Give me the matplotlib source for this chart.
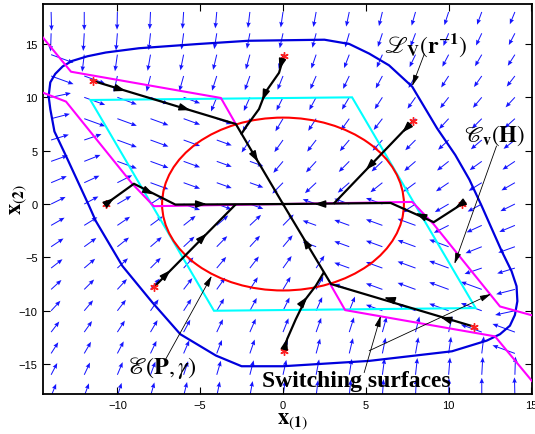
import numpy as np
import matplotlib
matplotlib.use("Agg")
import matplotlib.pyplot as plt
from matplotlib.patches import Ellipse, Polygon

plt.rcParams["mathtext.fontset"] = "stix"
plt.rcParams["font.family"] = ["Liberation Sans Narrow", "Liberation Sans", "DejaVu Sans"]

# ---- vector field (arrow components, in pixels) ----
GX = [-14, -12, -10, -8, -6, -4, -2, 0, 2, 4, 6, 8, 10, 12, 14]
GY = [18, 16, 14, 12, 10, 8, 6, 4, 2, 0, -2, -4, -6, -8, -10, -12, -14, -16, -18]
U_PX = [
    [0.4, 0.0, -0.3, -0.7, -1.0, -1.3, -1.7, -2.0, -2.4, -2.7, -3.0, -3.4, -3.7, -4.1, -4.4],
    [-0.5, -0.9, -1.2, -1.6, -1.9, -2.2, -2.6, -2.9, -3.3, -3.6, -3.9, -4.3, -4.6, -5.0, -5.3],
    [19.5, -1.8, -2.1, -2.5, -2.8, -3.2, -3.5, -3.8, -4.2, -4.5, -4.9, -5.2, -5.5, -5.9, -6.2],
    [19.5, 18.2, -3.1, -3.4, -3.7, -4.1, -4.4, -4.8, -5.1, -5.4, -5.8, -6.1, -6.5, -6.8, -7.1],
    [17.2, 18.2, 16.9, 15.6, 14.3, -5.0, -5.3, -5.7, -6.0, -6.4, -6.7, -7.0, -7.4, -7.7, -8.1],
    [16.3, 18.2, 16.9, 15.6, 14.3, 13.0, -6.3, -6.6, -6.9, -7.3, -7.6, -8.0, -8.3, -8.6, -9.0],
    [15.4, 15.0, 16.9, 15.6, 14.3, 13.0, -7.2, -7.5, -7.8, -8.2, -8.5, -8.9, -9.2, -9.5, -9.9],
    [14.5, 14.1, 16.9, 15.6, 14.3, 13.0, 11.7, -8.4, -8.8, -9.1, -9.4, -9.8, -10.1, -10.5, -10.8],
    [13.6, 13.2, 12.9, 15.6, 14.3, 13.0, 11.7, -9.3, -9.7, -10.0, -10.4, -10.7, -11.0, -11.4, -11.7],
    [12.6, 12.3, 12.0, 11.6, 14.3, 13.0, 11.7, 0.0, -11.7, -13.0, -14.3, -11.6, -12.0, -12.3, -12.6],
    [11.7, 11.4, 11.0, 10.7, 10.4, 10.0, 9.7, 9.3, -11.7, -13.0, -14.3, -15.6, -12.9, -13.2, -13.6],
    [10.8, 10.5, 10.1, 9.8, 9.4, 9.1, 8.8, 8.4, -11.7, -13.0, -14.3, -15.6, -16.9, -14.1, -14.5],
    [9.9, 9.5, 9.2, 8.9, 8.5, 8.2, 7.8, 7.5, 7.2, -13.0, -14.3, -15.6, -16.9, -15.0, -15.4],
    [9.0, 8.6, 8.3, 8.0, 7.6, 7.3, 6.9, 6.6, 6.3, -13.0, -14.3, -15.6, -16.9, -18.2, -16.3],
    [8.1, 7.7, 7.4, 7.0, 6.7, 6.4, 6.0, 5.7, 5.3, 5.0, -14.3, -15.6, -16.9, -18.2, -17.2],
    [7.1, 6.8, 6.5, 6.1, 5.8, 5.4, 5.1, 4.8, 4.4, 4.1, 3.7, 3.4, 3.1, -18.2, -19.5],
    [6.2, 5.9, 5.5, 5.2, 4.9, 4.5, 4.2, 3.8, 3.5, 3.2, 2.8, 2.5, 2.1, 1.8, -19.5],
    [5.3, 5.0, 4.6, 4.3, 3.9, 3.6, 3.3, 2.9, 2.6, 2.2, 1.9, 1.6, 1.2, 0.9, 0.5],
    [4.4, 4.1, 3.7, 3.4, 3.0, 2.7, 2.4, 2.0, 1.7, 1.3, 1.0, 0.7, 0.3, 0.0, -0.4],
]
V_PX = [
    [-16.3, -15.9, -15.5, -15.1, -14.7, -14.3, -13.9, -13.5, -13.1, -12.7, -12.3, -11.9, -11.5, -11.1, -10.7],
    [-15.8, -15.4, -15.0, -14.6, -14.2, -13.8, -13.4, -13.0, -12.6, -12.2, -11.8, -11.4, -11.0, -10.6, -10.2],
    [-7.1, -14.9, -14.5, -14.1, -13.7, -13.3, -12.9, -12.5, -12.1, -11.7, -11.3, -10.9, -10.5, -10.1, -9.7],
    [-7.1, -6.6, -14.0, -13.6, -13.2, -12.8, -12.4, -12.0, -11.6, -11.2, -10.8, -10.4, -10.0, -9.6, -9.2],
    [3.7, -6.6, -6.2, -5.7, -5.2, -12.3, -11.9, -11.5, -11.1, -10.7, -10.3, -9.9, -9.5, -9.1, -8.7],
    [4.2, -6.6, -6.2, -5.7, -5.2, -4.7, -11.4, -11.0, -10.6, -10.2, -9.8, -9.4, -9.0, -8.6, -8.2],
    [4.7, 5.1, -6.2, -5.7, -5.2, -4.7, -10.9, -10.5, -10.1, -9.7, -9.3, -8.9, -8.5, -8.1, -7.7],
    [5.2, 5.6, -6.2, -5.7, -5.2, -4.7, -4.2, -10.0, -9.6, -9.2, -8.8, -8.4, -8.0, -7.6, -7.2],
    [5.7, 6.1, 6.5, -5.7, -5.2, -4.7, -4.2, -9.5, -9.1, -8.7, -8.3, -7.9, -7.5, -7.1, -6.7],
    [6.2, 6.6, 7.0, 7.4, -5.2, -4.7, -4.2, 0.0, 4.2, 4.7, 5.2, -7.4, -7.0, -6.6, -6.2],
    [6.7, 7.1, 7.5, 7.9, 8.3, 8.7, 9.1, 9.5, 4.2, 4.7, 5.2, 5.7, -6.5, -6.1, -5.7],
    [7.2, 7.6, 8.0, 8.4, 8.8, 9.2, 9.6, 10.0, 4.2, 4.7, 5.2, 5.7, 6.2, -5.6, -5.2],
    [7.7, 8.1, 8.5, 8.9, 9.3, 9.7, 10.1, 10.5, 10.9, 4.7, 5.2, 5.7, 6.2, -5.1, -4.7],
    [8.2, 8.6, 9.0, 9.4, 9.8, 10.2, 10.6, 11.0, 11.4, 4.7, 5.2, 5.7, 6.2, 6.6, -4.2],
    [8.7, 9.1, 9.5, 9.9, 10.3, 10.7, 11.1, 11.5, 11.9, 12.3, 5.2, 5.7, 6.2, 6.6, -3.7],
    [9.2, 9.6, 10.0, 10.4, 10.8, 11.2, 11.6, 12.0, 12.4, 12.8, 13.2, 13.6, 14.0, 6.6, 7.1],
    [9.7, 10.1, 10.5, 10.9, 11.3, 11.7, 12.1, 12.5, 12.9, 13.3, 13.7, 14.1, 14.5, 14.9, 7.1],
    [10.2, 10.6, 11.0, 11.4, 11.8, 12.2, 12.6, 13.0, 13.4, 13.8, 14.2, 14.6, 15.0, 15.4, 15.8],
    [10.7, 11.1, 11.5, 11.9, 12.3, 12.7, 13.1, 13.5, 13.9, 14.3, 14.7, 15.1, 15.5, 15.9, 16.3],
]

# ---- sets ----
LV_X = [-14.15, -14.05, -13.75, -13.3, -12.75, -11.8, -10.7, -8.7, -5.1, -2.1, 2.5, 4.0, 5.2, 6.4,
        7.8, 9.3, 10.4, 11.25, 12.0, 13.2, 13.8, 14.1, 14.15, 14.0, 13.7, 13.1, 12.3, 10.2, 5.2,
        0.0, -2.5, -4.05, -6.2, -7.9, -9.7, -11.3, -11.7, -13.1, -13.8, -14.05, -14.15]
LV_Y = [10.1, 11.4, 12.2, 12.9, 13.4, 13.85, 14.2, 14.6, 15.0, 15.3, 15.4, 15.0, 14.1, 13.0,
        11.0, 7.1, 4.6, 2.3, -0.2, -4.4, -6.3, -7.7, -9.1, -10.4, -11.4, -12.2, -12.8, -13.8, -14.7,
        -15.2, -15.2, -14.2, -12.2, -9.2, -5.8, -1.6, -0.2, 4.5, 6.8, 8.9, 10.1]
CH_X = [-11.63, 4.17, 11.63, -4.17]
CH_Y = [9.75, 10.0, -9.75, -10.0]
ELL_W, ELL_H = 14.6, 16.2

# switching surfaces
SW1_X = [-14.6, -12.8, -3.75, -2.85]
SW1_Y = [15.8, 12.4, 9.94, 7.5]
SW2_X = [2.85, 3.75, 12.8, 15.2]
SW2_Y = [-7.5, -9.94, -12.4, -16.9]
SW3_X = [-14.6, -13.1, -9.1, -7.8, 7.8, 9.1, 13.1, 15.2]
SW3_Y = [10.5, 9.6, 1.9, -0.2, 0.2, -1.9, -9.6, -10.5]

# trajectories
TRAJ = [
    ([-11.5, -2.85, 0.0], [11.55, 7.5, 0.0]),
    ([11.55, 2.9, 0.0], [-11.5, -7.5, 0.0]),
    ([0.06, -0.24, -1.05, -1.45, -2.2, -2.5], [13.9, 12.3, 10.5, 8.9, 7.3, 6.6]),
    ([0.06, 0.25, 0.77, 1.37, 1.98, 2.45], [-13.75, -12.65, -10.8, -8.9, -7.66, -6.45]),
    ([-10.7, -9.0, -6.5, 0.0], [0.0, 1.9, -0.05, 0.0]),
    ([10.8, 9.1, 6.5, 0.0], [0.0, -1.7, 0.1, 0.0]),
    ([7.86, 3.1], [7.8, 0.1]),
    ([-7.8, -2.9], [-7.8, -0.1]),
]
# arrowheads on trajectories: (x, y, dx, dy)
HEADS = [
    (-9.5, 10.6, 8.65, -4.05), (-5.6, 8.8, 8.65, -4.05), (-1.5, 3.95, 2.85, -7.5),
    (9.5, -10.6, -8.65, 4.0), (6.1, -8.75, -8.65, 4.0), (1.2, -3.15, -2.9, 7.5),
    (-0.22, 12.6, -0.3, -1.6), (-1.25, 9.7, -0.4, -1.6),
    (0.25, -12.6, 0.19, 1.1), (1.45, -8.7, 0.6, 1.24),
    (-10.2, 0.55, 1.7, 1.9), (-7.8, 0.9, 2.5, -1.95), (-4.6, 0.0, 1.0, 0.0),
    (10.4, -0.35, -1.7, -1.7), (8.0, -0.85, -2.6, 1.8), (1.9, 0.0, -1.0, 0.0),
    (7.2, 6.7, -4.76, -7.7), (5.0, 3.2, -4.76, -7.7),
    (-6.8, -6.2, 4.9, 7.7), (-4.6, -2.75, 4.9, 7.7),
]

fig = plt.figure(figsize=(5.35, 4.35), dpi=100)
ax = fig.add_axes([0.081, 0.092, 0.913, 0.8966])

X, Y = np.meshgrid(GX, GY)
ax.quiver(X, Y, np.array(U_PX), np.array(V_PX), angles="uv", scale_units="dots", scale=0.87,
          units="dots", width=1.0, headwidth=4.5, headlength=5.5, headaxislength=5,
          color="#1414ff", pivot="tail", zorder=1)

ax.plot(LV_X, LV_Y, color="#0000dd", lw=1.6, zorder=3)
ax.add_patch(Polygon(np.c_[CH_X, CH_Y], closed=True, fill=False, ec="#00ffff", lw=1.5, zorder=3))
ax.add_patch(Ellipse((0, 0), ELL_W, ELL_H, fill=False, ec="#ff0000", lw=1.5, zorder=3))
for sx, sy in [(SW1_X, SW1_Y), (SW2_X, SW2_Y), (SW3_X, SW3_Y)]:
    ax.plot(sx, sy, color="#ff00ff", lw=1.5, zorder=3)

for tx, ty in TRAJ:
    ax.plot(tx, ty, color="k", lw=1.6, zorder=4)
    ax.plot(tx[0], ty[0], marker=(6, 2, 0), color="#ff2020", ms=6, mew=1.0, zorder=5)
for hx, hy, dx, dy in HEADS:
    n = np.hypot(dx, dy)
    ax.annotate("", xy=(hx, hy), xytext=(hx - 0.3 * dx / n, hy - 0.3 * dy / n),
                arrowprops=dict(arrowstyle="-|>,head_length=0.65,head_width=0.22", color="k",
                                lw=1.0, mutation_scale=10, shrinkA=0, shrinkB=0), zorder=5)

# labels with pointer lines
ann = dict(arrowstyle="-|>,head_length=0.6,head_width=0.16", color="k", lw=0.6,
           mutation_scale=11, shrinkA=0, shrinkB=0)
ax.annotate("", xy=(7.8, 11.06), xytext=(8.53, 14.06), arrowprops=ann, zorder=6)
ax.annotate("", xy=(10.35, -5.62), xytext=(12.89, 5.44), arrowprops=ann, zorder=6)
ax.annotate("", xy=(-4.3, -6.72), xytext=(-7.08, -14.53), arrowprops=ann, zorder=6)
ax.annotate("", xy=(5.9, -10.47), xytext=(4.9, -15.8), arrowprops=ann, zorder=6)
ax.annotate("", xy=(12.56, -8.43), xytext=(5.2, -13.75), arrowprops=ann, zorder=6)

ax.text(6.1, 15.0, r"$\mathscr{L}_{\mathbf{V}}(\mathbf{r}^{-\mathbf{1}})$", fontsize=17,
        ha="left", va="center", zorder=7)
ax.text(10.95, 6.5, r"$\mathscr{C}_{\mathbf{v}}(\mathbf{H})$", fontsize=16.5,
        ha="left", va="center", zorder=7)
ax.text(-9.44, -15.3, r"$\mathscr{E}(\mathbf{P},\gamma)$", fontsize=17.5,
        ha="left", va="center", zorder=7)
ax.text(-1.27, -16.5, "Switching surfaces", family="Liberation Serif", fontweight="bold",
        fontsize=17, ha="left", va="center", zorder=7)

ax.set_xlim(-14.47, 15.02)
ax.set_ylim(-17.8, 18.75)
ax.set_xticks([-10, -5, 0, 5, 10, 15])
ax.set_yticks([-15, -10, -5, 0, 5, 10, 15])
ax.tick_params(direction="in", top=True, right=True, length=5, width=0.8, labelsize=8, pad=4)
for s in ax.spines.values():
    s.set_linewidth(1.3)
ax.set_xlabel(r"$\mathbf{x}_{(\mathbf{1})}$", fontsize=16)
ax.xaxis.set_label_coords(0.51, -0.042)
ax.set_ylabel(r"$\mathbf{x}_{(\mathbf{2})}$", fontsize=16)
ax.yaxis.set_label_coords(-0.03, 0.5)

fig.savefig("out.png", dpi=100)
